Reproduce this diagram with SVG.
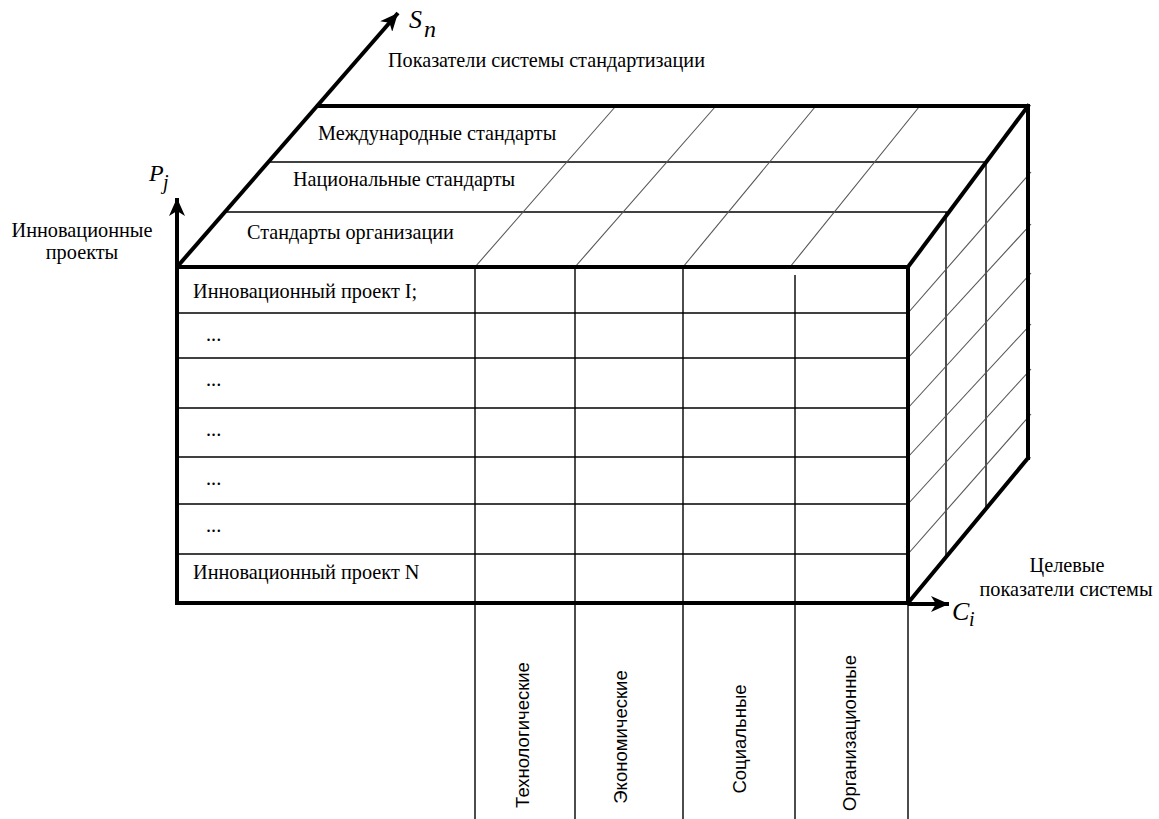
<svg xmlns="http://www.w3.org/2000/svg" width="1159" height="819" viewBox="0 0 1159 819">
<style>
.thick{stroke:#000;stroke-width:4;fill:none;stroke-linecap:square}
.thin{stroke:#000;stroke-width:1.4;fill:none}
.diag{stroke:#555;stroke-width:1.1;fill:none}
.serif{font-family:"Liberation Serif","Times New Roman",serif;fill:#000}
.lbl{font-size:20.3px}
.top{font-size:20.2px}
.ax{font-style:italic}
.sans{font-family:"Liberation Sans",Arial,sans-serif;font-size:18.5px;fill:#000;text-anchor:middle}
</style>
<defs>
<marker id="arr" markerUnits="userSpaceOnUse" markerWidth="20" markerHeight="16" refX="18" refY="8" orient="auto">
<path d="M0,0 L18,8 L0,16 L5,8 Z" fill="#000"/>
</marker>
</defs>
<rect width="1159" height="819" fill="#fff"/>
<g id="connectors">
<line class="thin" x1="270" y1="162" x2="986" y2="162"/>
<line class="thin" x1="226" y1="212" x2="947" y2="212"/>
<line class="diag" x1="475" y1="267" x2="615" y2="107"/>
<line class="diag" x1="575" y1="267" x2="715" y2="107"/>
<line class="diag" x1="683" y1="267" x2="815" y2="107"/>
<line class="diag" x1="790" y1="267" x2="919" y2="107"/>
<line class="thin" x1="178" y1="313" x2="908" y2="313"/>
<line class="thin" x1="178" y1="358" x2="908" y2="358"/>
<line class="thin" x1="178" y1="408" x2="908" y2="408"/>
<line class="thin" x1="178" y1="457" x2="908" y2="457"/>
<line class="thin" x1="178" y1="504" x2="908" y2="504"/>
<line class="thin" x1="178" y1="554" x2="908" y2="554"/>
<line class="thin" x1="475" y1="267" x2="475" y2="819"/>
<line class="thin" x1="575" y1="267" x2="575" y2="819"/>
<line class="thin" x1="683" y1="267" x2="683" y2="819"/>
<line class="thin" x1="795" y1="275" x2="795" y2="819"/>
<line class="thin" x1="908" y1="603" x2="908" y2="819"/>
<line class="thin" x1="946" y1="212" x2="946" y2="557"/>
<line class="thin" x1="986" y1="162" x2="986" y2="509"/>
<line class="diag" x1="908" y1="313" x2="1031" y2="172"/>
<line class="diag" x1="908" y1="358" x2="1031" y2="224"/>
<line class="diag" x1="908" y1="408" x2="1031" y2="273"/>
<line class="diag" x1="908" y1="457" x2="1031" y2="324"/>
<line class="diag" x1="908" y1="504" x2="1031" y2="369"/>
<line class="diag" x1="908" y1="554" x2="1031" y2="414"/>
<line class="thick" x1="318" y1="106" x2="1028" y2="106"/>
<line class="thick" x1="1028" y1="106" x2="1028" y2="458"/>
<line class="thick" x1="908" y1="267" x2="1028" y2="106"/>
<line class="thick" x1="908" y1="603" x2="1028" y2="458"/>
<line class="thick" x1="177" y1="267" x2="908" y2="267"/>
<line class="thick" x1="177" y1="267" x2="177" y2="603"/>
<line class="thick" x1="177" y1="603" x2="908" y2="603"/>
<line class="thick" x1="908" y1="267" x2="908" y2="603"/>
<line stroke="#000" stroke-width="4" x1="177" y1="267" x2="398" y2="13" marker-end="url(#arr)"/>
<line stroke="#000" stroke-width="4" x1="177" y1="267" x2="177" y2="198" marker-end="url(#arr)"/>
<line stroke="#000" stroke-width="4" x1="908" y1="604" x2="949" y2="604" marker-end="url(#arr)"/>
</g>
<g id="axis-s">
<text class="serif ax" x="409" y="28" font-size="26">S</text>
<text class="serif ax" x="424" y="37" font-size="24">n</text>
<text class="serif top" x="388" y="67">Показатели системы стандартизации</text>
</g>
<g id="axis-p">
<text class="serif ax" x="149" y="181" font-size="24">P</text>
<text class="serif ax" x="163" y="189" font-size="20">j</text>
<text class="serif lbl" x="82" y="237" text-anchor="middle">Инновационные</text>
<text class="serif lbl" x="82" y="259" text-anchor="middle">проекты</text>
</g>
<g id="axis-c">
<text class="serif ax" x="952" y="620" font-size="26">C</text>
<text class="serif ax" x="969" y="626" font-size="20">i</text>
<text class="serif lbl" x="1067" y="572" text-anchor="middle">Целевые</text>
<text class="serif lbl" x="1066" y="596" text-anchor="middle">показатели системы</text>
</g>
<g id="standards">
<text class="serif top" x="318" y="140">Международные стандарты</text>
<text class="serif top" x="293" y="186">Национальные стандарты</text>
<text class="serif top" x="247" y="239">Стандарты организации</text>
</g>
<g id="projects">
<text class="serif lbl" x="193" y="298">Инновационный проект I;</text>
<text class="serif lbl" x="206" y="341">...</text>
<text class="serif lbl" x="206" y="386">...</text>
<text class="serif lbl" x="206" y="436">...</text>
<text class="serif lbl" x="206" y="485">...</text>
<text class="serif lbl" x="206" y="532">...</text>
<text class="serif lbl" x="193" y="579">Инновационный проект N</text>
</g>
<g id="indicators">
<text class="sans" transform="translate(529,735) rotate(-90)">Технологические</text>
<text class="sans" transform="translate(627,737) rotate(-90)">Экономические</text>
<text class="sans" transform="translate(746,739) rotate(-90)">Социальные</text>
<text class="sans" transform="translate(856,733) rotate(-90)">Организационные</text>
</g>
</svg>
